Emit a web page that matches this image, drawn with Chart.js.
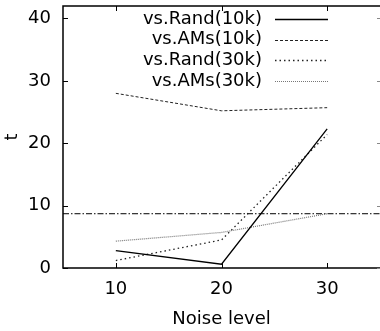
<!DOCTYPE html>
<html>
<head>
<meta charset="utf-8">
<script src="https://cdn.jsdelivr.net/npm/chart.js@4.4.1/dist/chart.umd.min.js"></script>
<style>
  html, body { margin: 0; padding: 0; background: #fff; overflow: hidden; }
  canvas { display: block; }
</style>
</head>
<body>
<canvas id="chart" width="380" height="331"></canvas>
<script>
// ── Data ───────────────────────────────────────────
const noiseLevels = [10, 20, 30];
const randSmall   = [2.8, 0.6, 22.3];   // vs.Rand(10k)
const amsSmall    = [28.0, 25.2, 25.7]; // vs.AMs(10k)
const randLarge   = [1.2, 4.5, 21.4];   // vs.Rand(30k)
const amsLarge    = [4.3, 5.7, 8.7];    // vs.AMs(30k)
const threshold   = 8.7;
const xRange      = [5, 35];
const yRange      = [0, 42];
const xTickValues = [10, 20, 30];
const yTickValues = [0, 10, 20, 30, 40];

const FONT = "'DejaVu Sans', sans-serif";

function pts(ys) {
  return noiseLevels.map((x, i) => ({ x, y: ys[i] }));
}

function series(label, ys, color, width, dash) {
  return {
    label, data: pts(ys), borderColor: color, borderWidth: width,
    borderDash: dash, pointRadius: 0, fill: false, tension: 0,
  };
}

// ── Frame, inward ticks and key (gnuplot style) ────
const framePlugin = {
  id: "frame",
  afterDatasetsDraw(chart) {
    const { ctx, chartArea: a, scales } = chart;
    ctx.save();
    ctx.strokeStyle = "#000";
    ctx.lineWidth = 1.5;
    ctx.setLineDash([]);
    ctx.beginPath();
    ctx.moveTo(a.right + 2, a.top);
    ctx.lineTo(a.left, a.top);
    ctx.lineTo(a.left, a.bottom);
    ctx.lineTo(a.right + 2, a.bottom);
    ctx.stroke();

    ctx.lineWidth = 1;
    ctx.beginPath();
    xTickValues.forEach(v => {
      const x = Math.round(scales.x.getPixelForValue(v)) + 0.5;
      ctx.moveTo(x, a.bottom); ctx.lineTo(x, a.bottom - 5);
      ctx.moveTo(x, a.top);    ctx.lineTo(x, a.top + 5);
    });
    yTickValues.forEach(v => {
      const y = Math.round(scales.y.getPixelForValue(v)) + 0.5;
      ctx.moveTo(a.left, y);  ctx.lineTo(a.left + 5, y);
    });
    ctx.stroke();
    ctx.strokeStyle = "#888";
    ctx.beginPath();
    yTickValues.forEach(v => {
      const y = Math.round(scales.y.getPixelForValue(v)) + 0.5;
      ctx.moveTo(a.right, y); ctx.lineTo(a.right - 3, y);
    });
    ctx.stroke();

    // key, top right, text right-aligned then line sample
    ctx.font = "18px " + FONT;
    ctx.textAlign = "right";
    ctx.textBaseline = "middle";
    ctx.fillStyle = "#000";
    const textRight = 262, lineL = 275, lineR = 328;
    chart.data.datasets.forEach((ds, i) => {
      if (ds.hidden || ds.label === "threshold") return;
      const y = 19 + i * 20.7;
      ctx.fillText(ds.label, textRight, y);
      ctx.beginPath();
      ctx.strokeStyle = ds.borderColor;
      ctx.lineWidth = ds.borderWidth;
      ctx.setLineDash(ds.borderDash || []);
      ctx.moveTo(lineL, Math.round(y) + 0.5);
      ctx.lineTo(lineR, Math.round(y) + 0.5);
      ctx.stroke();
    });
    ctx.restore();
  },
};

const tickFont = { family: FONT, size: 18 };

function noPad(s) {
  s.paddingTop = 0; s.paddingBottom = 0; s.paddingLeft = 0; s.paddingRight = 0;
}

new Chart(document.getElementById("chart"), {
  type: "line",
  data: {
    datasets: [
      series("vs.Rand(10k)", randSmall, "#000", 1.3, []),
      series("vs.AMs(10k)",  amsSmall,  "#222", 1, [3, 2]),
      series("vs.Rand(30k)", randLarge, "#222", 1.3, [1.5, 3]),
      series("vs.AMs(30k)",  amsLarge,  "#777", 1.2, [1, 1]),
      {
        label: "threshold",
        data: xRange.map(x => ({ x, y: threshold })),
        borderColor: "#000", borderWidth: 1, borderDash: [6, 2, 1.5, 2],
        pointRadius: 0, fill: false,
      },
    ],
  },
  options: {
    responsive: false,
    animation: false,
    devicePixelRatio: 1,
    layout: { padding: { top: 6, right: 0, left: 0, bottom: 0 } },
    plugins: { legend: { display: false }, tooltip: { enabled: false } },
    scales: {
      x: {
        type: "linear", min: xRange[0], max: xRange[1],
        afterBuildTicks: s => { s.ticks = xTickValues.map(value => ({ value })); },
        afterFit: s => { s.height = 63; noPad(s); },
        grid: { display: false, drawTicks: false },
        border: { display: false },
        ticks: { color: "#000", font: tickFont, padding: 11, maxRotation: 0 },
        title: { display: true, text: "Noise level", color: "#000", font: tickFont, padding: { top: 0, bottom: 1 } },
      },
      y: {
        min: yRange[0], max: yRange[1],
        afterBuildTicks: s => { s.ticks = yTickValues.map(value => ({ value })); },
        afterFit: s => { s.width = 63; noPad(s); },
        grid: { display: false, drawTicks: false },
        border: { display: false },
        ticks: { color: "#000", font: tickFont, padding: 12 },
        title: { display: true, text: "t", color: "#000", font: tickFont, padding: { top: 2, bottom: 0 } },
      },
    },
  },
  plugins: [framePlugin],
});
</script>
</body>
</html>
